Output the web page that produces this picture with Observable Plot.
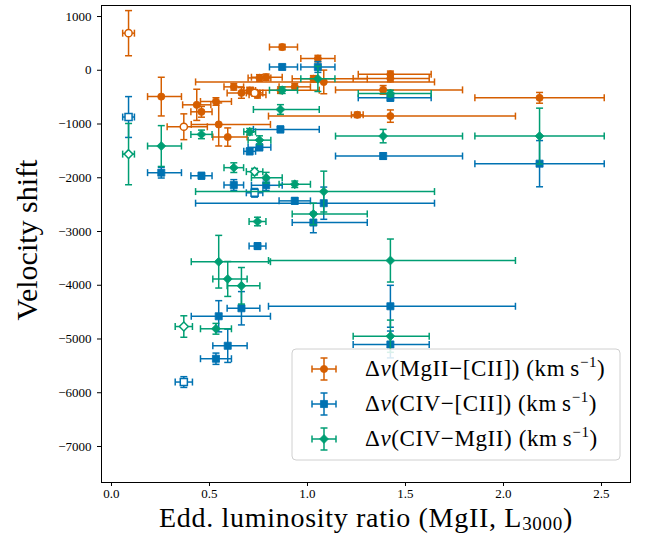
<!DOCTYPE html>
<html><head><meta charset="utf-8">
<script src="https://cdn.jsdelivr.net/npm/d3@7"></script>
<script src="https://cdn.jsdelivr.net/npm/@observablehq/plot@0.6"></script>
<style>body{margin:0;background:#fff;} #chart{width:646px;height:536px;}</style>
</head><body><div id="chart"></div>
<script>
// Eddington luminosity ratio (MgII, L3000) per object
const objX      = [0.087,0.254,0.369,0.435,0.459,0.533,0.547,0.593,0.624,0.663,0.705,0.730,0.745,0.755,0.789,0.862,0.871,0.935,1.030,1.053,1.083,1.254,1.386,1.423,1.423,1.423,2.184];
const xErrLoMg  = [0.030,0.070,0.085,0.072,0.054,0.079,0.140,0.076,0.050,0.073,0.030,0.042,0.043,0.058,0.075,0.138,0.065,0.080,0.108,0.087,0.654,0.030,0.243,0.164,0.190,0.622,0.330];
const xErrHiMg  = [0.030,0.103,0.120,0.072,0.054,0.079,0.264,0.099,0.050,0.094,0.030,0.042,0.043,0.058,0.082,0.198,0.078,0.080,0.275,0.087,0.565,0.030,0.405,0.208,0.198,0.638,0.330];
const xErrLoCIV = [0.030,0.070,0.044,0.072,0.054,0.079,0.140,0.076,0.050,0.073,0.030,0.042,0.043,0.058,0.075,0.138,0.065,0.080,0.108,0.087,0.654,0.030,0.243,0.164,0.190,0.622,0.330];
const xErrHiCIV = [0.030,0.103,0.044,0.072,0.054,0.079,0.264,0.099,0.050,0.094,0.030,0.042,0.043,0.058,0.082,0.198,0.078,0.080,0.275,0.087,0.565,0.030,0.405,0.208,0.198,0.638,0.330];
const openFlag  = [true,false,true,false,false,false,false,false,false,false,false,true,false,false,false,false,false,false,false,false,false,false,false,false,false,false,false];
// Δv(MgII−[CII])
const dvMgII_CII  = [690,-490,-1051,-643,-773,-581,-1008,-1243,-309,-421,-377,-421,-457,-142,-130,-370,432,-309,-160,217,-217,-829,-365,-75,-154,-853,-513];
const errMgII_CII = [420,360,240,290,100,70,400,170,60,100,60,60,60,60,60,60,50,60,60,60,220,50,80,60,60,115,100];
// Δv(CIV−[CII])
const dvCIV_CII  = [-870,-1905,-5801,null,-1963,-5367,-4577,-5126,-2135,-4428,-1508,-2280,-3271,-1434,-2140,-1100,61,-2430,-2833,61,-2473,null,-1596,-513,-5102,-4391,-1738];
const errCIV_CII = [380,100,100,null,60,105,290,310,100,310,60,80,60,60,100,60,50,60,190,100,300,null,60,60,250,390,430];
// Δv(CIV−MgII)
const dvCIV_MgII  = [-1560,-1410,-4768,null,-1193,-4810,-3562,-3883,-1812,-4010,-1144,-1886,-2814,-1300,-2000,-730,-371,-2121,-2673,-160,-2257,null,-1225,-432,-4948,-3540,-1225];
const errCIV_MgII = [570,380,200,null,80,100,490,325,90,340,60,60,80,80,100,90,60,60,200,235,380,null,125,60,300,400,520];

const xTicks = [0, 0.5, 1.0, 1.5, 2.0, 2.5];
const yTicks = [1000, 0, -1000, -2000, -3000, -4000, -5000, -6000, -7000];

const series = [
  {key:"MgII\u2212[CII]", color:"#D55E00", symbol:"circle",   r:3.6, y:dvMgII_CII, e:errMgII_CII, xlo:xErrLoMg,  xhi:xErrHiMg},
  {key:"CIV\u2212[CII]",  color:"#0072B2", symbol:"square",   r:4.0, y:dvCIV_CII,  e:errCIV_CII,  xlo:xErrLoCIV, xhi:xErrHiCIV},
  {key:"CIV\u2212MgII",   color:"#009E73", symbol:"diamond2", r:4.0, y:dvCIV_MgII, e:errCIV_MgII, xlo:xErrLoCIV, xhi:xErrHiCIV}
];

const capV = {draw(ctx, size){const h=Math.sqrt(size/Math.PI); ctx.moveTo(0,-h); ctx.lineTo(0,h);}};
const capH = {draw(ctx, size){const h=Math.sqrt(size/Math.PI); ctx.moveTo(-h,0); ctx.lineTo(h,0);}};

function rows(s){
  return objX.map((x,i)=>({x, y:s.y[i], e:s.e[i], xl:x - s.xlo[i], xh:x + s.xhi[i], open:openFlag[i]}))
             .filter(d=>d.y!=null);
}

const marks = [];
for (const s of series){
  const d = rows(s);
  const lw = 1.5;
  marks.push(Plot.link(d,{x1:"xl",x2:"xh",y1:"y",y2:"y",stroke:s.color,strokeWidth:lw}));
  marks.push(Plot.link(d,{x1:"x",x2:"x",y1:r=>r.y-r.e,y2:r=>r.y+r.e,stroke:s.color,strokeWidth:lw}));
  marks.push(Plot.dot(d,{x:"xl",y:"y",symbol:capV,r:3.5,stroke:s.color,fill:"none",strokeWidth:lw}));
  marks.push(Plot.dot(d,{x:"xh",y:"y",symbol:capV,r:3.5,stroke:s.color,fill:"none",strokeWidth:lw}));
  marks.push(Plot.dot(d,{x:"x",y:r=>r.y-r.e,symbol:capH,r:3.5,stroke:s.color,fill:"none",strokeWidth:lw}));
  marks.push(Plot.dot(d,{x:"x",y:r=>r.y+r.e,symbol:capH,r:3.5,stroke:s.color,fill:"none",strokeWidth:lw}));
  marks.push(Plot.dot(d.filter(r=>!r.open),{x:"x",y:"y",symbol:s.symbol,r:s.r,fill:s.color,stroke:s.color,strokeWidth:0.8}));
  marks.push(Plot.dot(d.filter(r=>r.open),{x:"x",y:"y",symbol:s.symbol,r:s.r,fill:"white",stroke:s.color,strokeWidth:1.5}));
}
marks.push(Plot.frame({stroke:"black",strokeWidth:1}));

const fmtY = v => v < 0 ? "\u2212" + Math.abs(v) : String(v);

const plot = Plot.plot({
  width:646, height:536,
  marginLeft:101, marginRight:16, marginTop:5, marginBottom:54,
  style:{fontFamily:"'Liberation Serif', serif", fontSize:"13px", background:"white", color:"black"},
  x:{domain:[-0.051,2.648], ticks:xTicks, tickFormat:v=>v.toFixed(1), tickSize:4, tickPadding:2, label:null},
  y:{domain:[-7670,1205], ticks:yTicks, tickFormat:fmtY, tickSize:4, tickPadding:6, label:null},
  marks
});
document.getElementById("chart").appendChild(plot);

const svg = d3.select(plot);
const serif = "'Liberation Serif', serif";
// axis labels
const xl = svg.append("text").attr("x",366).attr("y",527).attr("text-anchor","middle")
  .attr("font-family",serif).attr("font-size",28).attr("letter-spacing",0.7).attr("fill","black");
xl.append("tspan").text("Edd. luminosity ratio (MgII, L");
xl.append("tspan").attr("font-size",19).attr("dy",3).text("3000");
xl.append("tspan").attr("dy",-3).text(")");
svg.append("text").attr("transform","translate(37,240) rotate(-90)").attr("text-anchor","middle")
  .attr("font-family",serif).attr("font-size",30).attr("fill","black").text("Velocity shift");

// legend
const lg = svg.append("g");
lg.append("rect").attr("x",292).attr("y",349).attr("width",328).attr("height",111).attr("rx",4)
  .attr("fill","white").attr("fill-opacity",0.85).attr("stroke","#d0d0d0").attr("stroke-width",1);
const sym = {circle:d3.symbolCircle, square:d3.symbolSquare, diamond2:d3.symbolDiamond2};
series.forEach((s,i)=>{
  const cy = 369 + i*35, cx = 324;
  const g = lg.append("g").attr("stroke",s.color).attr("stroke-width",1.5);
  g.append("line").attr("x1",cx-12).attr("x2",cx+12).attr("y1",cy).attr("y2",cy);
  g.append("line").attr("x1",cx).attr("x2",cx).attr("y1",cy-11).attr("y2",cy+11);
  g.append("line").attr("x1",cx-12).attr("x2",cx-12).attr("y1",cy-3.5).attr("y2",cy+3.5);
  g.append("line").attr("x1",cx+12).attr("x2",cx+12).attr("y1",cy-3.5).attr("y2",cy+3.5);
  g.append("line").attr("x1",cx-3.5).attr("x2",cx+3.5).attr("y1",cy-11).attr("y2",cy-11);
  g.append("line").attr("x1",cx-3.5).attr("x2",cx+3.5).attr("y1",cy+11).attr("y2",cy+11);
  g.append("path").attr("transform",`translate(${cx},${cy})`).attr("fill",s.color).attr("stroke-width",0.8)
    .attr("d",d3.symbol(sym[s.symbol], s.r*s.r*Math.PI)());
  const t = lg.append("text").attr("x",365).attr("y",cy+7).attr("text-anchor","start")
    .attr("font-family",serif).attr("font-size",23).attr("letter-spacing",0.6).attr("fill","black");
  t.append("tspan").text("\u0394");
  t.append("tspan").attr("font-style","italic").text("v");
  t.append("tspan").text("(" + s.key + ") (km\u2009s");
  t.append("tspan").attr("font-size",15).attr("dy",-9).text("\u22121");
  t.append("tspan").attr("dy",9).text(")");
});
</script>
</body></html>
